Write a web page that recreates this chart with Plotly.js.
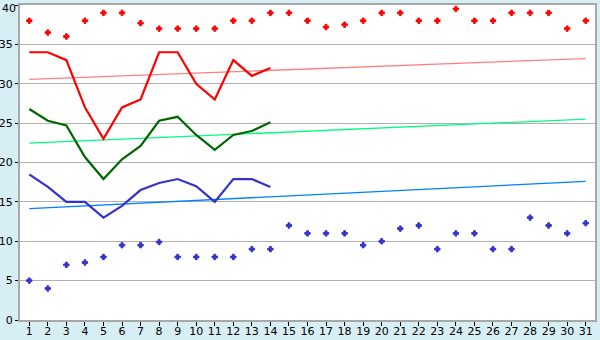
<!DOCTYPE html>
<html>
<head>
<meta charset="utf-8">
<script src="https://cdn.plot.ly/plotly-3.0.1.min.js"></script>
<style>
html,body{margin:0;padding:0;background:#D8EEF5;}
#chart{width:600px;height:340px;}
</style>
</head>
<body>
<div id="chart"></div>
<script>
// Days
var days = [1,2,3,4,5,6,7,8,9,10,11,12,13,14,15,16,17,18,19,20,21,22,23,24,25,26,27,28,29,30,31];
var lineDays = [1,2,3,4,5,6,7,8,9,10,11,12,13,14];
// Record highs (red points)
var recordHigh = [38,36.5,36,38,39,39,37.7,37,37,37,37,38,38,39,39,38,37.2,37.5,38,39,39,38,38,39.5,38,38,39,39,39,37,38];
// Record lows (blue points)
var recordLow = [5,4,7,7.3,8,9.5,9.5,9.9,8,8,8,8,9,9,12,11,11,11,9.5,10,11.6,12,9,11,11,9,9,13,12,11,12.3];
// Daily max (red line)
var dailyMax = [34,34,33,27,23,27,28,34,34,30,28,33,31,32];
// Daily mean (green line)
var dailyMean = [26.8,25.3,24.7,20.7,17.9,20.4,22.1,25.3,25.8,23.5,21.6,23.5,24.0,25.1];
// Daily min (blue line)
var dailyMin = [18.5,16.9,15,15,13,14.5,16.5,17.4,17.9,17,15,17.9,17.9,16.9];
// Normal trend lines (start day 1, end day 31)
var trendDays = [1,31];
var normalMax = [30.55,33.2];
var normalMean = [22.45,25.5];
var normalMin = [14.15,17.6];
var yTicks = [0,5,10,15,20,25,30,35,40];
var yTopTick = yTicks[yTicks.length-1];

var traces = [
  {x:trendDays,y:normalMax,mode:'lines',line:{color:'#FF8080',width:1.3}},
  {x:trendDays,y:normalMean,mode:'lines',line:{color:'#00FF80',width:1.3}},
  {x:trendDays,y:normalMin,mode:'lines',line:{color:'#0080FF',width:1.3}},
  {x:lineDays,y:dailyMax,mode:'lines',line:{color:'#FF0000',width:2.2}},
  {x:lineDays,y:dailyMean,mode:'lines',line:{color:'#006600',width:2.2}},
  {x:lineDays,y:dailyMin,mode:'lines',line:{color:'#3333CC',width:2.2}},
  {x:days,y:recordHigh,mode:'markers',marker:{symbol:'cross',size:4.5,color:'#FF0000',line:{width:1,color:'#FF0000'}}},
  {x:days,y:recordLow,mode:'markers',marker:{symbol:'cross',size:4.5,color:'#3333CC',line:{width:1,color:'#3333CC'}}}
];

var layout = {
  width:600,height:340,
  margin:{l:20,r:5,t:5,b:20,pad:0},
  paper_bgcolor:'#D8EEF5',
  plot_bgcolor:'#FFFFFF',
  showlegend:false,
  font:{family:'DejaVu Sans, Verdana, sans-serif',size:11,color:'#000'},
  xaxis:{
    range:[0.5,31.5],
    tickmode:'array',tickvals:days,ticktext:days.map(String),
    ticks:'outside',ticklen:4,tickcolor:'#000',tickwidth:1,
    ticklabelstandoff:-4,
    showgrid:false,zeroline:false,
    showline:true,linecolor:'#A8A8A8',linewidth:2,mirror:true,
    tickfont:{size:11}
  },
  yaxis:{
    range:[0,40],
    tickmode:'array',tickvals:yTicks,
    ticktext:yTicks.map(function(v){return v===yTopTick?'':String(v);}),
    ticks:'outside',ticklen:3,tickcolor:'#000',tickwidth:1,
    showgrid:true,gridcolor:'#B0B0B0',gridwidth:1,zeroline:false,
    showline:true,linecolor:'#A8A8A8',linewidth:2,mirror:true,
    tickfont:{size:11}
  },
  annotations:[{
    xref:'paper',yref:'y',x:0,y:yTopTick,text:String(yTopTick),
    showarrow:false,xanchor:'right',yanchor:'top',xshift:-3,yshift:4,borderpad:0,
    font:{size:11,color:'#000'}
  }]
};
Plotly.newPlot('chart',traces,layout,{displayModeBar:false,staticPlot:true});
</script>
</body>
</html>
